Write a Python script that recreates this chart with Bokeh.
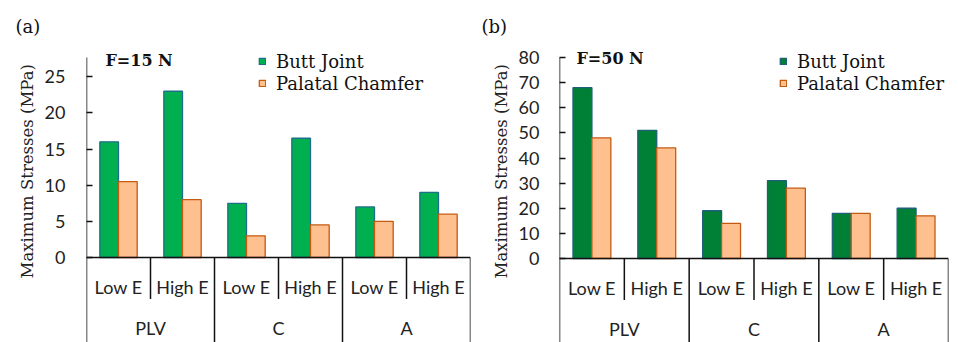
from bokeh.plotting import figure
from bokeh.models import (FactorRange, Range1d, FixedTicker, ColumnDataSource,
                          Label, Legend, LegendItem, Title)
from bokeh.transform import dodge
from bokeh.layouts import row
from bokeh.core.properties import value
from bokeh.embed import file_html
from bokeh.resources import INLINE

# ---------------- data ----------------
groups = ["PLV", "C", "A"]
levels = ["Low E", "High E"]
series_names = ["Butt Joint", "Palatal Chamfer"]

butt_15 = [16, 23, 7.5, 16.5, 7, 9]
chamfer_15 = [10.5, 8, 3, 4.5, 5, 6]
butt_50 = [68, 51, 19, 31, 18, 20]
chamfer_50 = [48, 44, 14, 28, 18, 17]

ticks_15 = [0, 5, 10, 15, 20, 25]
ticks_50 = [0, 10, 20, 30, 40, 50, 60, 70, 80]
ymax_15 = 27.67
ymax_50 = 80

panel_labels = ["(a)", "(b)"]
force_labels = ["F=15 N", "F=50 N"]
y_title = "Maximum Stresses (MPa)"

# ---------------- style ----------------
TOP = 42          # frame top (px)
AXIS_TOP = 57     # top of value axis (px)
BOTTOM = 342
FH = BOTTOM - TOP
SERIF = "DejaVu Serif"
SANS = "Lato"
ORANGE = "#FFC090"
ORANGE_LINE = "#C55A11"
INK = "#111111"


def panel(butt, chamfer, ticks, ymax, zero_px, green, green_line, force, plabel,
          bl, fw, br, tick_standoff, title_standoff, leg_x, f_x, f_y, p_x):
    factors = [(g, l) for g in groups for l in levels]
    scale = (zero_px - AXIS_TOP) / ymax          # px per unit
    ytop = (zero_px - TOP) / scale
    ymin = -(BOTTOM - zero_px) / scale
    p = figure(x_range=FactorRange(*factors, factor_padding=0, group_padding=0,
                                   subgroup_padding=0, range_padding=0),
               y_range=Range1d(ymin, ytop), frame_width=fw, frame_height=FH,
               min_border_left=bl, min_border_right=br, min_border_top=TOP,
               min_border_bottom=0, x_axis_location=None, title=None,
               output_backend="svg", toolbar_location=None)
    p.outline_line_color = None
    p.xgrid.visible = False
    p.ygrid.visible = False

    ax = p.yaxis[0]
    ax.ticker = FixedTicker(ticks=ticks)
    ax.major_tick_in = 6
    ax.major_tick_out = 0
    ax.minor_tick_in = 0
    ax.minor_tick_out = 0
    ax.axis_line_color = None
    ax.major_tick_line_width = 1.5
    ax.major_tick_line_color = INK
    ax.major_label_text_font = SANS
    ax.major_label_text_font_size = "18px"
    ax.major_label_text_color = "#222222"
    ax.major_label_standoff = tick_standoff

    src = ColumnDataSource(dict(x=factors, butt=butt, chamfer=chamfer))
    r1 = p.vbar(x=dodge("x", -0.146, range=p.x_range), top="butt", width=0.292,
                source=src, fill_color=green, line_color=green_line, line_width=1.3)
    r2 = p.vbar(x=dodge("x", 0.146, range=p.x_range), top="chamfer", width=0.292,
                source=src, fill_color=ORANGE, line_color=ORANGE_LINE, line_width=1.3)

    # value axis line (from axis top down through the category rows)
    left = ColumnDataSource(dict(x=[factors[0]], y0=[ymax], y1=[ymin]))
    p.segment(x0=dodge("x", -0.5, range=p.x_range), x1=dodge("x", -0.5, range=p.x_range),
              y0="y0", y1="y1", source=left, line_color=INK, line_width=1.5)
    # category axis drawn inside the extended frame
    ends = ColumnDataSource(dict(a=[factors[0]], b=[factors[-1]], y=[0]))
    p.segment(x0=dodge("a", -0.5, range=p.x_range), x1=dodge("b", 0.5, range=p.x_range),
              y0="y", y1="y", source=ends, line_color=INK, line_width=1.5)
    sub_sep = ColumnDataSource(dict(x=[(g, levels[0]) for g in groups],
                                    y0=[0] * len(groups),
                                    y1=[-41.5 / scale] * len(groups)))
    p.segment(x0=dodge("x", 0.5, range=p.x_range), x1=dodge("x", 0.5, range=p.x_range),
              y0="y0", y1="y1", source=sub_sep, line_color=INK, line_width=1.5)
    grp_sep = ColumnDataSource(dict(x=[(g, levels[-1]) for g in groups],
                                    y0=[0] * len(groups), y1=[ymin] * len(groups)))
    p.segment(x0=dodge("x", 0.5, range=p.x_range), x1=dodge("x", 0.5, range=p.x_range),
              y0="y0", y1="y1", source=grp_sep, line_color=INK, line_width=1.5)

    sub_lab = ColumnDataSource(dict(x=factors, t=[f[1] for f in factors],
                                    y=[-29.5 / scale] * len(factors)))
    p.text(x="x", y="y", text="t", source=sub_lab, text_font=value(SANS),
           text_font_size="18px", text_align="center", text_baseline="middle",
           text_color="#222222")
    grp_lab = ColumnDataSource(dict(x=[(g, levels[0]) for g in groups], t=groups,
                                    y=[-70 / scale] * len(groups)))
    p.text(x=dodge("x", 0.5, range=p.x_range), y="y", text="t", source=grp_lab,
           text_font=value(SANS), text_font_size="18px", text_align="center",
           text_baseline="middle", text_color="#222222")

    legend = Legend(items=[LegendItem(label=series_names[0], renderers=[r1]),
                           LegendItem(label=series_names[1], renderers=[r2])],
                    location=(leg_x, 248), glyph_width=8, glyph_height=8,
                    label_text_font=SERIF, label_text_font_size="18px",
                    label_text_color=INK, label_standoff=10,
                    label_height=22, spacing=0, padding=0, margin=0,
                    background_fill_alpha=0, border_line_alpha=0)
    p.add_layout(legend)

    p.add_layout(Label(x=f_x, y=BOTTOM - f_y, x_units="screen", y_units="screen",
                       text=force, text_font=SERIF, text_font_style="bold",
                       text_font_size="16px", text_baseline="middle",
                       text_color=INK))

    p.add_layout(Title(text=plabel, align="left", offset=p_x, standoff=11,
                       text_font=SERIF, text_font_size="18px",
                       text_font_style="normal", text_color=INK), "above")
    p.add_layout(Title(text=y_title, align="left", offset=BOTTOM - 278,
                       standoff=title_standoff,
                       text_font=SERIF, text_font_size="16.5px",
                       text_font_style="normal", text_color="#222222"), "left")
    return p


p1 = panel(butt_15, chamfer_15, ticks_15, ymax_15, 257, "#00B050", "#1F6E8C",
           force_labels[0], panel_labels[0], bl=86, fw=384, br=9,
           tick_standoff=21, title_standoff=9, leg_x=172, f_x=19, f_y=60, p_x=-71)
p2 = panel(butt_50, chamfer_50, ticks_50, ymax_50, 258, "#007F36", "#1F5F7A",
           force_labels[1], panel_labels[1], bl=80, fw=389, br=10,
           tick_standoff=20, title_standoff=10, leg_x=220, f_x=17, f_y=57.5, p_x=-78)

layout = row(p1, p2)
open("out.html", "w").write(file_html(layout, INLINE))
